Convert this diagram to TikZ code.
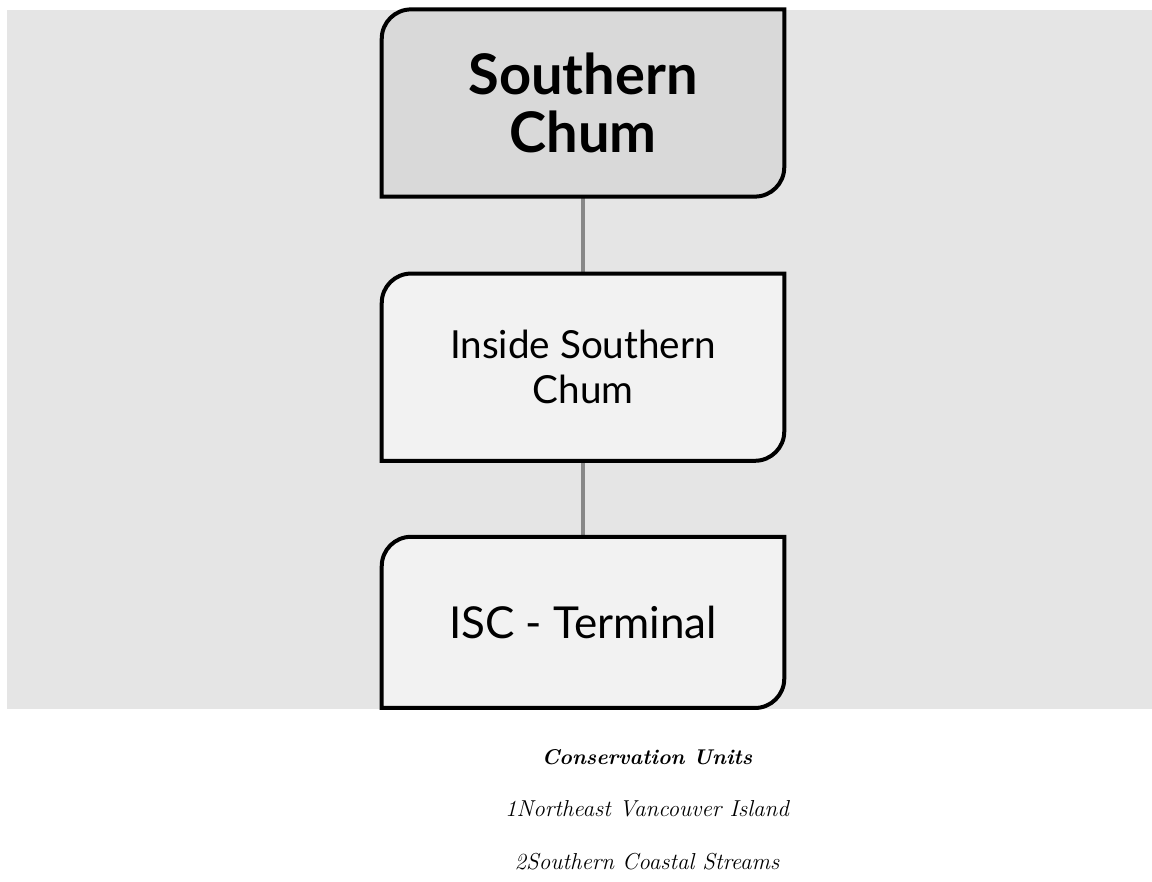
\documentclass[tikz,border=0pt]{standalone}
\usepackage{fontspec}
\newfontfamily\boxfont{Lato}
\usetikzlibrary{positioning,calc,backgrounds}
\definecolor{panelgray}{RGB}{229,229,229}
\definecolor{rootfill}{RGB}{217,217,217}
\definecolor{leaffill}{RGB}{242,242,242}
\definecolor{linkgray}{RGB}{136,136,136}
\tikzset{
  cubox/.style   = {minimum width=301.5pt,minimum height=140pt,inner sep=0pt,
                    align=center,text=black},
  link/.style    = {draw=linkgray,line width=3pt},
  outline/.style = {draw=black,line width=3pt},
  legend/.style  = {font=\fontsize{17.3}{20}\selectfont\itshape},
}
% box with rounded top-left and bottom-right corners
\newcommand{\cushape}[2]{%
  \filldraw[outline,fill=#2] (#1.south west) -- ($(#1.north west)+(0,-22pt)$)
    arc[start angle=180,end angle=90,radius=22pt] -- (#1.north east)
    -- ($(#1.south east)+(0,22pt)$)
    arc[start angle=0,end angle=-90,radius=22pt] -- cycle;}

\begin{document}
\begin{tikzpicture}
  \useasboundingbox (0,0) rectangle (864pt,660.75pt);

  \node[cubox,font=\boxfont\bfseries\fontsize{42}{43}\selectfont] (south)
    at (437.25pt,583.5pt) {Southern\\Chum};
  \node[cubox,font=\boxfont\fontsize{29}{34}\selectfont,below=57.75pt of south]
    (inside) {Inside Southern\\Chum};
  \node[cubox,font=\boxfont\fontsize{33}{36}\selectfont,minimum height=128pt,
    below=57pt of inside] (term) {ISC - Terminal};

  \node[legend,font=\fontsize{16}{19}\selectfont\bfseries\itshape] (cutitle)
    at (485.25pt,93pt) {Conservation Units};
  \node[legend] (cuone) at (485.25pt,54pt) {1Northeast Vancouver Island};
  \node[legend] (cutwo) at (485.25pt,14.25pt) {2Southern Coastal Streams};

  \begin{scope}[on background layer]
    \fill[panelgray] (5.25pt,129pt) rectangle (864pt,653.25pt);
    \draw[link] (south.south) -- (inside.north);
    \draw[link] (inside.south) -- (term.north);
    \cushape{south}{rootfill}
    \cushape{inside}{leaffill}
    \cushape{term}{leaffill}
  \end{scope}
\end{tikzpicture}
\end{document}
